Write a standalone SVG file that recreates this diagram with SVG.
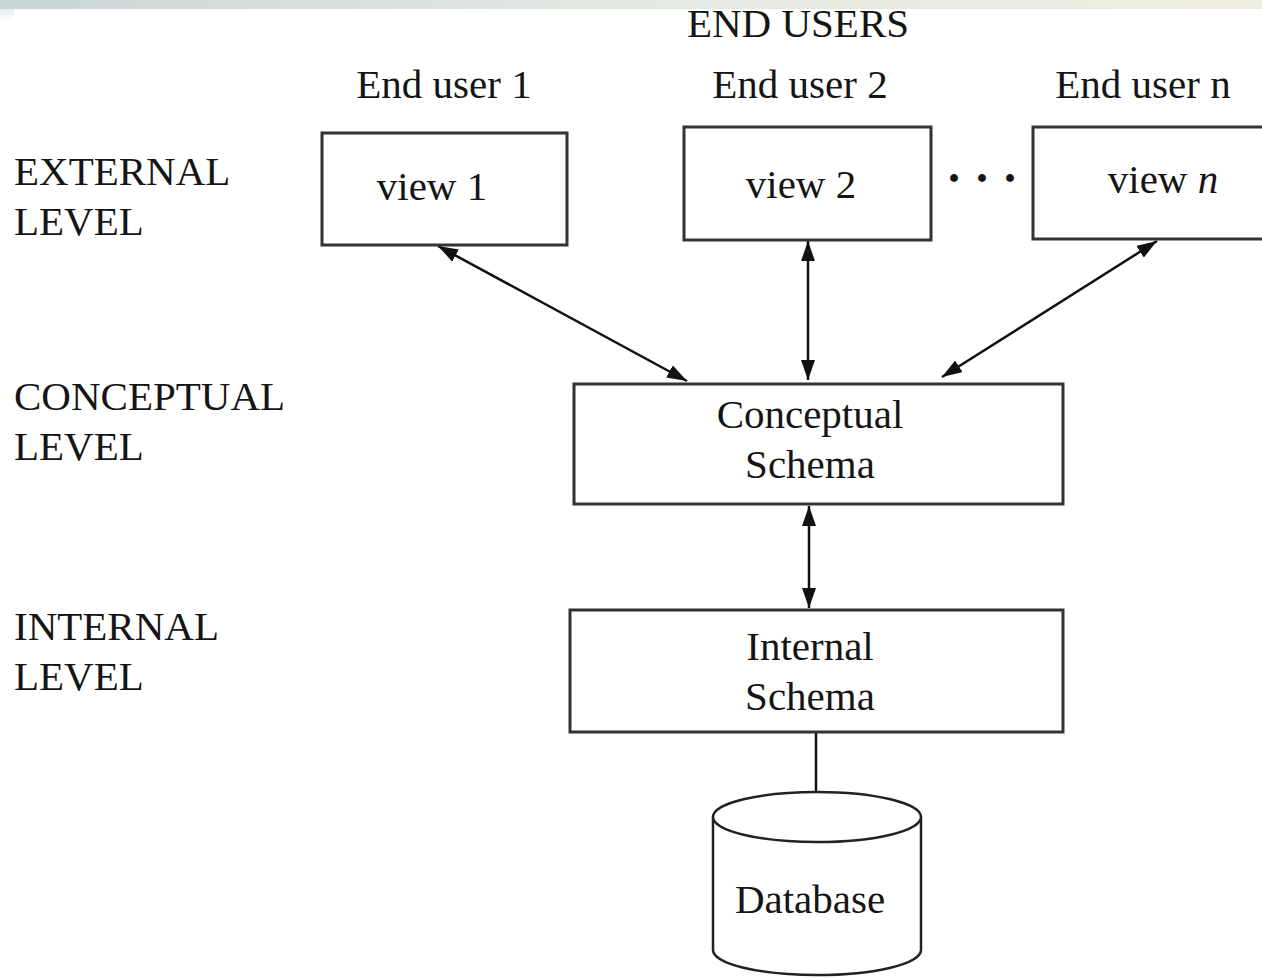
<svg xmlns="http://www.w3.org/2000/svg" width="1262" height="980" viewBox="0 0 1262 980">
<style>
  text { font-family: "Liberation Serif", "Times New Roman", serif; font-size: 41px; fill: #151515; }
  .mid { text-anchor: middle; }
  .box { fill: #ffffff; stroke: #333333; stroke-width: 3; }
  .conn { stroke: #111111; stroke-width: 2.5; fill: none; }
</style>
<defs>
  <linearGradient id="topbar" x1="0" y1="0" x2="1" y2="0">
    <stop offset="0" stop-color="#c9d6d6"/>
    <stop offset="0.5" stop-color="#e3e8e2"/>
    <stop offset="1" stop-color="#efede0"/>
  </linearGradient>
  <linearGradient id="topfade" x1="0" y1="0" x2="0" y2="1">
    <stop offset="0" stop-color="#ffffff" stop-opacity="0"/>
    <stop offset="1" stop-color="#ffffff" stop-opacity="1"/>
  </linearGradient>
  <marker id="ah" viewBox="0 0 20 14" refX="20" refY="7" markerWidth="20" markerHeight="14" markerUnits="userSpaceOnUse" orient="auto-start-reverse">
    <path d="M0,0 L20,7 L0,14 z" fill="#111111"/>
  </marker>
</defs>
<rect x="0" y="0" width="1262" height="980" fill="#ffffff"/>
<rect x="0" y="0" width="1262" height="9" fill="url(#topbar)"/>
<rect x="0" y="9" width="14" height="12" fill="#e6ecea"/>
<rect x="0" y="9" width="14" height="12" fill="url(#topfade)"/>

<g id="labels">
  <text x="798" y="37" class="mid">END USERS</text>
  <text x="444" y="98" class="mid">End user 1</text>
  <text x="800" y="98" class="mid">End user 2</text>
  <text x="1143" y="98" class="mid">End user n</text>
  <text x="14" y="185">EXTERNAL</text>
  <text x="14" y="235">LEVEL</text>
  <text x="14" y="410">CONCEPTUAL</text>
  <text x="14" y="460">LEVEL</text>
  <text x="14" y="640">INTERNAL</text>
  <text x="14" y="690">LEVEL</text>
  <text x="982" y="194" class="mid" style="font-size:48px;font-weight:bold">· · ·</text>
</g>

<g id="connectors">
  <line class="conn" x1="438" y1="246" x2="687" y2="381" marker-start="url(#ah)" marker-end="url(#ah)"/>
  <line class="conn" x1="808" y1="241" x2="808" y2="380" marker-start="url(#ah)" marker-end="url(#ah)"/>
  <line class="conn" x1="1157" y1="241" x2="942" y2="377" marker-start="url(#ah)" marker-end="url(#ah)"/>
  <line class="conn" x1="809" y1="506" x2="809" y2="608" marker-start="url(#ah)" marker-end="url(#ah)"/>
  <line class="conn" x1="816" y1="733" x2="816" y2="793" stroke="#333333"/>
</g>

<g id="view1">
  <rect class="box" x="322" y="133" width="245" height="112"/>
  <text x="432" y="200" class="mid">view 1</text>
</g>
<g id="view2">
  <rect class="box" x="684" y="127" width="247" height="113"/>
  <text x="801" y="198" class="mid">view 2</text>
</g>
<g id="viewn">
  <rect class="box" x="1033" y="127" width="240" height="112"/>
  <text x="1163" y="193" class="mid">view <tspan font-style="italic">n</tspan></text>
</g>
<g id="conceptual">
  <rect class="box" x="574" y="384" width="489" height="120"/>
  <text x="810" y="428" class="mid">Conceptual</text>
  <text x="810" y="478" class="mid">Schema</text>
</g>
<g id="internal">
  <rect class="box" x="570" y="610" width="493" height="122"/>
  <text x="810" y="660" class="mid">Internal</text>
  <text x="810" y="710" class="mid">Schema</text>
</g>
<g id="database">
  <path d="M713,817 L713,950 A104,25 0 0 0 921,950 L921,817" fill="#ffffff" stroke="#222222" stroke-width="2.5"/>
  <ellipse cx="817" cy="817" rx="104" ry="25" fill="#ffffff" stroke="#222222" stroke-width="2.5"/>
  <text x="810" y="913" class="mid">Database</text>
</g>
</svg>
